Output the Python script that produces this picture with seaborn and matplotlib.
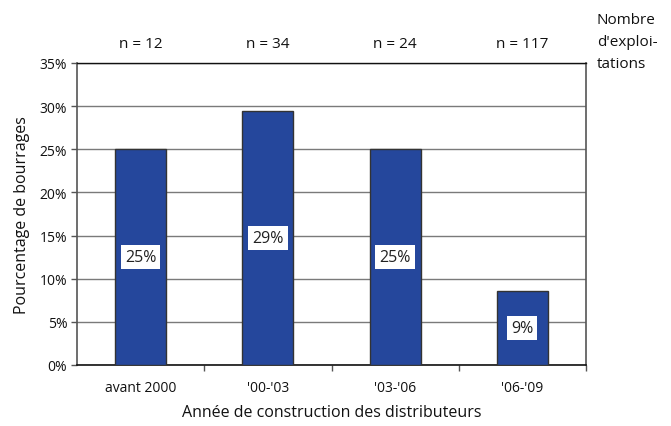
import matplotlib
matplotlib.use("Agg")
import matplotlib.pyplot as plt
import seaborn as sns
import pandas as pd
from matplotlib.ticker import FixedLocator, PercentFormatter

# Data
periods = ["avant 2000", "'00-'03", "'03-'06", "'06-'09"]
blockage_pct = [25.0, 29.4, 25.0, 8.6]
farm_counts = [12, 34, 24, 117]
y_ticks = [0, 5, 10, 15, 20, 25, 30, 35]

df = pd.DataFrame({"periode": periods, "pct": blockage_pct})

sns.set_theme(style="white")
plt.rcParams["font.family"] = ["Open Sans", "DejaVu Sans"]

fig = plt.figure(figsize=(6.71, 4.27), dpi=100)
ax = fig.add_axes([77 / 671, 1 - 366 / 427, (586 - 77) / 671, (366 - 64) / 427])

bar_color = "#25479C"
sns.barplot(data=df, x="periode", y="pct", color=bar_color, width=0.4,
            edgecolor="#333333", linewidth=1.0, saturation=1, ax=ax, zorder=3)

ax.set_ylim(0, 35)
ax.set_xlim(-0.5, len(periods) - 0.5)
ax.yaxis.set_major_locator(FixedLocator(y_ticks))
ax.yaxis.set_major_formatter(PercentFormatter(decimals=0))
ax.grid(axis="y", color="#7a7a7a", linewidth=1.0, zorder=0)
ax.set_axisbelow(True)

# Value labels in white boxes at the middle of each bar
for i, v in enumerate(blockage_pct):
    ax.text(i, v / 2, f"{v:.0f}%", ha="center", va="center", fontsize=11.5,
            color="#222222", zorder=5,
            bbox=dict(boxstyle="square,pad=0.25", fc="white", ec="none"))

# Sample sizes above the plot
for i, n in enumerate(farm_counts):
    ax.text(i, 1.065, f"n = {n}", transform=ax.get_xaxis_transform(),
            ha="center", va="center", fontsize=11, color="#111111")

fig.text(597 / 671, 1 - 13 / 427, "Nombre\nd'exploi-\ntations", ha="left",
         va="top", fontsize=11, color="#111111", linespacing=1.65)

# Axis styling
for side in ["left", "right"]:
    ax.spines[side].set_color("#555555")
    ax.spines[side].set_linewidth(1.2)
ax.spines["top"].set_color("#111111")
ax.spines["bottom"].set_color("#111111")
ax.spines["top"].set_linewidth(1.0)
ax.spines["bottom"].set_linewidth(1.2)

ax.tick_params(axis="y", which="major", left=True, length=4, width=1,
               color="#555555", labelsize=10, labelcolor="#111111", pad=3)
ax.tick_params(axis="x", which="major", bottom=False, labelsize=10,
               labelcolor="#111111", pad=4.5)
ax.xaxis.set_minor_locator(FixedLocator([0.5, 1.5, 2.5, 3.5]))
ax.tick_params(axis="x", which="minor", bottom=True, length=4, width=1,
               color="#555555")

ax.set_xlabel("Année de construction des distributeurs", fontsize=11.5,
              color="#111111", labelpad=7)
ax.set_ylabel("Pourcentage de bourrages", fontsize=11.5, color="#111111",
              labelpad=7)

fig.savefig("out.png", dpi=100, facecolor="white")
